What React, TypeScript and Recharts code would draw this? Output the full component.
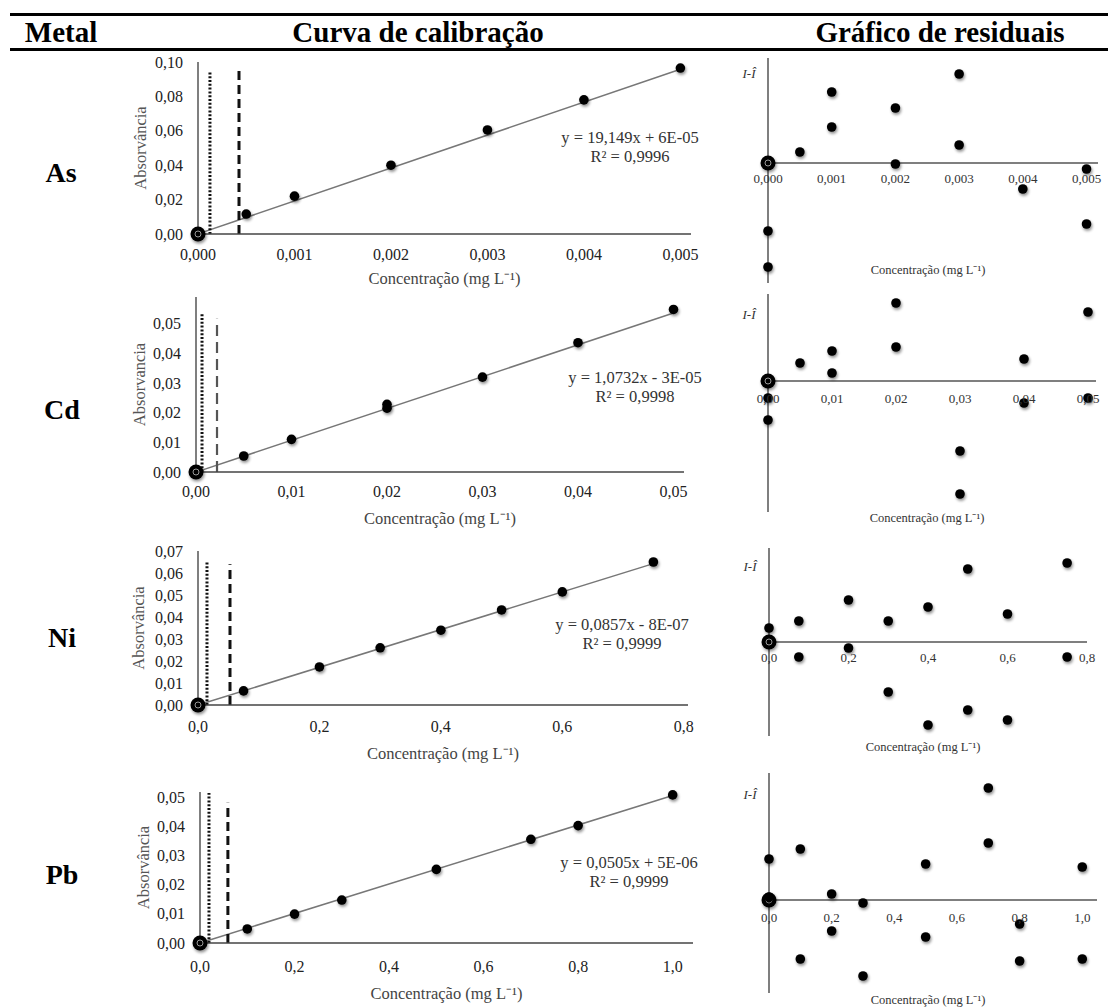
import { ScatterChart, Scatter, XAxis, YAxis, ReferenceLine, ReferenceDot } from "recharts";

const FONT = '"Liberation Serif", "Times New Roman", serif';

// ---- As ----
const asConc = [0, 0.0005, 0.001, 0.002, 0.003, 0.004, 0.005];
const asAbs = [0, 0.0116, 0.022, 0.04, 0.0605, 0.078, 0.0965];
const asXTicks = [0, 0.001, 0.002, 0.003, 0.004, 0.005];
const asYTicks = [0, 0.02, 0.04, 0.06, 0.08, 0.1];
const asResX = [0, 0, 0, 0.0005, 0.001, 0.001, 0.002, 0.002, 0.003, 0.003, 0.004, 0.005, 0.005];
const asResY = [0, -6.8, -10.4, 1.1, 7.1, 3.6, 5.5, -0.1, 8.9, 1.8, -2.6, -0.6, -6.1];

// ---- Cd ----
const cdConc = [0, 0.005, 0.01, 0.02, 0.02, 0.03, 0.04, 0.05];
const cdAbs = [0, 0.0054, 0.011, 0.0228, 0.0215, 0.032, 0.0436, 0.0548];
const cdXTicks = [0, 0.01, 0.02, 0.03, 0.04, 0.05];
const cdYTicks = [0, 0.01, 0.02, 0.03, 0.04, 0.05];
const cdResX = [0, 0, 0, 0.005, 0.01, 0.01, 0.02, 0.02, 0.03, 0.03, 0.04, 0.04, 0.05, 0.05];
const cdResY = [0, -1.7, -3.9, 1.8, 3.0, 0.8, 7.8, 3.4, -7.0, -11.3, 2.2, -2.2, 6.9, -1.7];

// ---- Ni ----
const niConc = [0, 0.075, 0.2, 0.3, 0.4, 0.5, 0.6, 0.75];
const niAbs = [0, 0.0064, 0.0173, 0.026, 0.034, 0.0432, 0.0514, 0.065];
const niXTicks = [0, 0.2, 0.4, 0.6, 0.8];
const niYTicks = [0, 0.01, 0.02, 0.03, 0.04, 0.05, 0.06, 0.07];
const niResX = [0, 0, 0.075, 0.075, 0.2, 0.2, 0.3, 0.3, 0.4, 0.4, 0.5, 0.5, 0.6, 0.6, 0.75, 0.75];
const niResY = [0, 1.4, 2.1, -1.5, 4.2, -0.6, 2.1, -5.0, 3.5, -8.3, 7.3, -6.8, 2.8, -7.8, 7.9, -1.5];

// ---- Pb ----
const pbConc = [0, 0.1, 0.2, 0.3, 0.5, 0.7, 0.8, 1.0];
const pbAbs = [0, 0.0048, 0.0099, 0.0147, 0.0252, 0.0355, 0.0402, 0.0507];
const pbXTicks = [0, 0.2, 0.4, 0.6, 0.8, 1.0];
const pbYTicks = [0, 0.01, 0.02, 0.03, 0.04, 0.05];
const pbResX = [0, 0, 0, 0.1, 0.1, 0.2, 0.2, 0.3, 0.3, 0.5, 0.5, 0.7, 0.7, 0.8, 0.8, 1.0, 1.0];
const pbResY = [0, 4.1, 0.3, 5.1, -5.9, 0.6, -3.1, -0.3, -7.6, 3.6, -3.7, 11.2, 5.7, -2.4, -6.1, 3.3, -5.9];

// regression printed on each curve: [slope, intercept]
const asFit = [19.149, 0.00006];
const cdFit = [1.0732, -0.00003];
const niFit = [0.0857, -0.0000008];
const pbFit = [0.0505, 0.000005];

// LOD (dotted) and LOQ (dashed) markers: [x, top]
const asLimits = [[0.000124, 0.0947], [0.000425, 0.0959]];
const cdLimits = [[0.00063, 0.0537], [0.0022, 0.0517]];
const niLimits = [[0.0148, 0.065], [0.0527, 0.064]];
const pbLimits = [[0.019, 0.0514], [0.059, 0.048]];

const fmt = (d: number) => (v: number) => v.toFixed(d).replace(".", ",");

const zip = (xs: number[], ys: number[]) => xs.map((x, i) => ({ x, y: ys[i] }));

function Point(props: any) {
  const { cx, cy, payload } = props;
  if (cx == null || cy == null) return null;
  if (payload.x === 0 && payload.y === 0) {
    return (
      <g filter="url(#soft)">
        <circle cx={cx} cy={cy} r={7.5} fill="#000" />
        <circle cx={cx} cy={cy} r={3} fill="none" stroke="#9a9a9a" strokeWidth={1} />
      </g>
    );
  }
  return <circle cx={cx} cy={cy} r={4.8} fill="#000" filter="url(#soft)" />;
}

type Box = { left: number; right: number; top: number; bottom: number; labelX: number; titleY: number; tickM: number };

function CalibChart(p: {
  conc: number[]; abs: number[]; fit: number[]; limits: number[][];
  xTicks: number[]; yTicks: number[]; xMax: number; yMax: number; xDec: number; yDec: number;
  yTitle: string; box: Box; grayLoq?: boolean;
}) {
  const { box } = p;
  const mt = 10;
  const yw = 2 * (box.left - box.labelX);
  const xh = 2 * (box.titleY - box.bottom);
  const h = mt + (box.bottom - box.top) + xh + 2;
  const data = zip(p.conc, p.abs);
  const xEnd = p.conc[p.conc.length - 1];
  return (
    <div style={{ position: "absolute", left: 0, top: box.top - mt }}>
      <ScatterChart width={720} height={h} margin={{ top: mt, right: 720 - box.right, left: box.left - yw, bottom: 2 }}>
        <XAxis
          type="number" dataKey="x" domain={[0, p.xMax]} ticks={p.xTicks} interval={0}
          tickFormatter={fmt(p.xDec)} axisLine={{ stroke: "#444", strokeWidth: 1.5 }} tickLine={false}
          tick={{ fill: "#222", fontSize: 16 }} tickMargin={box.tickM} height={xh}
          label={{ value: "Concentração (mg L⁻¹)", position: "center", fill: "#444", fontSize: 16.5 }}
        />
        <YAxis
          type="number" dataKey="y" domain={[0, p.yMax]} ticks={p.yTicks} interval={0}
          tickFormatter={fmt(p.yDec)} axisLine={{ stroke: "#555", strokeWidth: 1.5 }} tickLine={false}
          tick={{ fill: "#222", fontSize: 16 }} tickMargin={9} width={yw}
          label={{ value: p.yTitle, position: "center", angle: -90, fill: "#555", fontSize: 16.5 }}
        />
        <ReferenceLine
          segment={[{ x: 0, y: p.fit[1] }, { x: xEnd, y: p.fit[0] * xEnd + p.fit[1] }]}
          stroke="#777" strokeWidth={1.5} ifOverflow="visible"
        />
        <ReferenceLine
          segment={[{ x: p.limits[0][0], y: 0 }, { x: p.limits[0][0], y: p.limits[0][1] }]}
          stroke="#111" strokeWidth={3} strokeDasharray="2 1.8"
        />
        <ReferenceLine
          segment={[{ x: p.limits[1][0], y: 0 }, { x: p.limits[1][0], y: p.limits[1][1] }]}
          stroke={p.grayLoq ? "#555" : "#111"} strokeWidth={p.grayLoq ? 2.2 : 3} strokeDasharray={p.grayLoq ? "11 6" : "9 5"}
        />
        <Scatter data={data} shape={<Point />} isAnimationActive={false} />
      </ScatterChart>
    </div>
  );
}

type RBox = { left: number; right: number; top: number; bottom: number; titleOff: number; tickOff: number; iiDy: number };

function ResidualChart(p: {
  xs: number[]; ys: number[]; ticks: number[]; dec: number; xMax: number; yMin: number; yMax: number; box: RBox;
}) {
  const { box } = p;
  const mt = 10;
  const yw = 30;
  const xh = 20;
  const h = mt + (box.bottom - box.top) + xh + 2;
  const data = zip(p.xs, p.ys);
  const f = fmt(p.dec);
  return (
    <div style={{ position: "absolute", left: 720, top: box.top - mt }}>
      <ScatterChart width={388} height={h} margin={{ top: mt, right: 1108 - box.right, left: box.left - 720 - yw, bottom: 2 }}>
        <XAxis
          type="number" dataKey="x" domain={[0, p.xMax]} axisLine={false} tickLine={false}
          tick={false} height={xh}
          label={{ value: "Concentração (mg L⁻¹)", position: "insideBottom", offset: box.titleOff, fill: "#333", fontSize: 12.5, dx: -5 }}
        />
        <YAxis
          type="number" dataKey="y" domain={[p.yMin, p.yMax]} tick={false} tickLine={false}
          axisLine={{ stroke: "#555", strokeWidth: 1.5 }} width={yw}
          label={{
            content: (lp: any) => {
              const vb = lp.viewBox || {};
              return (
                <text x={vb.x + vb.width - 19} y={vb.y + box.iiDy} textAnchor="middle" fontStyle="italic" fontSize={13} fill="#333">
                  I-Î
                </text>
              );
            },
          }}
        />
        <ReferenceLine y={0} stroke="#555" strokeWidth={1.5} />
        {p.ticks.map((t) => (
          <ReferenceDot
            key={t} x={t} y={0} r={0} fill="none" stroke="none" ifOverflow="visible"
            label={{ value: f(t), position: "bottom", offset: box.tickOff, fill: "#333", fontSize: 13 }}
          />
        ))}
        <Scatter data={data} shape={<Point />} isAnimationActive={false} />
      </ScatterChart>
    </div>
  );
}

function Txt(p: { x: number; y: number; size: number; bold?: boolean; children: any; color?: string }) {
  return (
    <div
      style={{
        position: "absolute", left: p.x, top: p.y, transform: "translate(-50%, -50%)", whiteSpace: "nowrap",
        fontSize: p.size, fontWeight: p.bold ? 700 : 400, lineHeight: 1, color: p.color || "#000", textAlign: "center",
      }}
    >
      {p.children}
    </div>
  );
}

function Equation(p: { x: number; y: number; eq: string; r2: string }) {
  return (
    <div
      style={{
        position: "absolute", left: p.x, top: p.y, transform: "translate(-50%, -50%)", whiteSpace: "nowrap",
        fontSize: 16.5, lineHeight: "19px", color: "#333", textAlign: "center",
      }}
    >
      <div>{p.eq}</div>
      <div>{p.r2}</div>
    </div>
  );
}

export default function App() {
  return (
    <div style={{ position: "absolute", left: 0, top: 0, width: 1108, height: 1007, background: "#fff", fontFamily: FONT, overflow: "hidden" }}>
      <svg width={0} height={0} style={{ position: "absolute" }}>
        <defs>
          <filter id="soft" x="-100%" y="-100%" width="300%" height="300%">
            <feGaussianBlur in="SourceAlpha" stdDeviation="1.6" result="b" />
            <feOffset in="b" dx="0.6" dy="1.6" result="o" />
            <feComponentTransfer in="o" result="s">
              <feFuncA type="linear" slope="0.45" />
            </feComponentTransfer>
            <feMerge>
              <feMergeNode in="s" />
              <feMergeNode in="SourceGraphic" />
            </feMerge>
          </filter>
        </defs>
      </svg>

      <div style={{ position: "absolute", left: 10, top: 13, width: 1098, height: 3, background: "#000" }} />
      <div style={{ position: "absolute", left: 10, top: 48, width: 1098, height: 3, background: "#000" }} />
      <Txt x={61} y={32} size={29} bold>Metal</Txt>
      <Txt x={418} y={32} size={29} bold>Curva de calibração</Txt>
      <Txt x={940} y={32} size={29} bold>Gráfico de residuais</Txt>

      <Txt x={61} y={173} size={28} bold>As</Txt>
      <Txt x={62} y={410} size={28} bold>Cd</Txt>
      <Txt x={62} y={638} size={28} bold>Ni</Txt>
      <Txt x={62} y={875} size={28} bold>Pb</Txt>

      <CalibChart
        conc={asConc} abs={asAbs} fit={asFit} limits={asLimits} xTicks={asXTicks} yTicks={asYTicks}
        xMax={0.00511} yMax={0.1} xDec={3} yDec={2} yTitle="Absorvância"
        box={{ left: 198, right: 691, top: 62, bottom: 234, labelX: 140, titleY: 278, tickM: 9 }}
      />
      <CalibChart
        conc={cdConc} abs={cdAbs} fit={cdFit} limits={cdLimits} xTicks={cdXTicks} yTicks={cdYTicks}
        xMax={0.0511} yMax={0.059} xDec={2} yDec={2} yTitle="Absorvancia" grayLoq
        box={{ left: 196, right: 684, top: 297, bottom: 472, labelX: 139, titleY: 518, tickM: 8 }}
      />
      <CalibChart
        conc={niConc} abs={niAbs} fit={niFit} limits={niLimits} xTicks={niXTicks} yTicks={niYTicks}
        xMax={0.807} yMax={0.07} xDec={1} yDec={2} yTitle="Absorvância"
        box={{ left: 198, right: 688, top: 551, bottom: 705, labelX: 138, titleY: 753, tickM: 10 }}
      />
      <CalibChart
        conc={pbConc} abs={pbAbs} fit={pbFit} limits={pbLimits} xTicks={pbXTicks} yTicks={pbYTicks}
        xMax={1.043} yMax={0.0517} xDec={1} yDec={2} yTitle="Absorvância"
        box={{ left: 200, right: 693, top: 792, bottom: 943, labelX: 143, titleY: 993, tickM: 12 }}
      />

      <Equation x={630} y={147} eq="y = 19,149x + 6E-05" r2="R² = 0,9996" />
      <Equation x={635} y={387} eq="y = 1,0732x - 3E-05" r2="R² = 0,9998" />
      <Equation x={622} y={634} eq="y = 0,0857x - 8E-07" r2="R² = 0,9999" />
      <Equation x={629} y={872} eq="y = 0,0505x + 5E-06" r2="R² = 0,9999" />

      <ResidualChart
        xs={asResX} ys={asResY} ticks={asXTicks} dec={3} xMax={0.00518} yMin={-12} yMax={10.5}
        box={{ left: 768, right: 1098, top: 58, bottom: 283, titleOff: 29, tickOff: 10.5, iiDy: 20 }}
      />
      <ResidualChart
        xs={cdResX} ys={cdResY} ticks={cdXTicks} dec={2} xMax={0.05125} yMin={-13.1} yMax={8.7}
        box={{ left: 768, right: 1096, top: 294, bottom: 512, titleOff: 10, tickOff: 12.5, iiDy: 25 }}
      />
      <ResidualChart
        xs={niResX} ys={niResY} ticks={niXTicks} dec={1} xMax={0.8} yMin={-9.4} yMax={9.4}
        box={{ left: 769, right: 1087, top: 548, bottom: 736, titleOff: 5, tickOff: 10.5, iiDy: 23 }}
      />
      <ResidualChart
        xs={pbResX} ys={pbResY} ticks={pbXTicks} dec={1} xMax={1.047} yMin={-9.3} yMax={12.7}
        box={{ left: 769, right: 1097, top: 773, bottom: 993, titleOff: 9, tickOff: 12.5, iiDy: 26 }}
      />
    </div>
  );
}
